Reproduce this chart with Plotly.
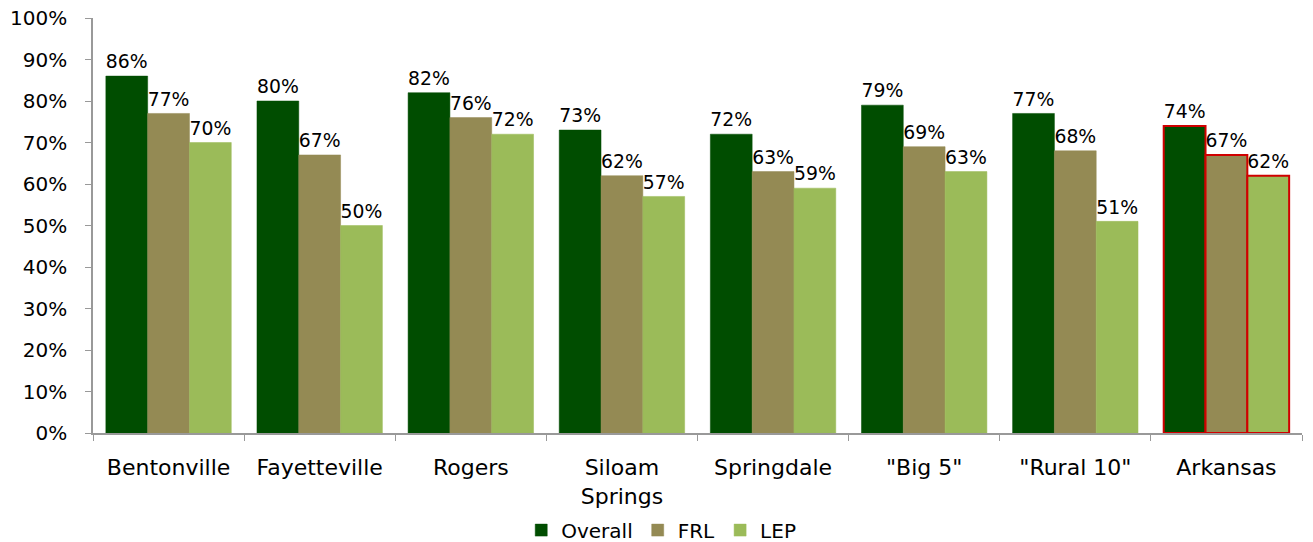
import plotly.graph_objects as go

categories = ["Bentonville", "Fayetteville", "Rogers", "Siloam<br>Springs",
              "Springdale", "\"Big 5\"", "\"Rural 10\"", "Arkansas"]
overall = [86, 80, 82, 73, 72, 79, 77, 74]
frl = [77, 67, 76, 62, 63, 69, 68, 67]
lep = [70, 50, 72, 57, 59, 63, 51, 62]

FONT = "DejaVu Sans"
series = [("Overall", overall, "#004d00"), ("FRL", frl, "#948a54"), ("LEP", lep, "#9bbb59")]

fig = go.Figure()
for name, vals, col in series:
    line_cols = [col] * (len(categories) - 1) + ["#d00000"]
    line_w = [0.5] * (len(categories) - 1) + [2]
    fig.add_trace(go.Bar(
        x=categories, y=vals, name=name,
        marker=dict(color=col, line=dict(color=line_cols, width=line_w)),
        text=[f"{v}%" for v in vals], textposition="outside",
        textfont=dict(family=FONT, size=20, color="#000000"),
        cliponaxis=False,
    ))

fig.update_layout(
    width=1313, height=542,
    margin=dict(l=85, r=19, t=10, b=117, autoexpand=False),
    paper_bgcolor="white", plot_bgcolor="white",
    barmode="group", bargap=0.17, bargroupgap=0,
    font=dict(family=FONT, size=20, color="#000000"),
    showlegend=True,
    legend=dict(orientation="h", x=0.47, xanchor="center", y=-0.234, yanchor="middle",
                font=dict(family=FONT, size=20), traceorder="normal"),
    yaxis=dict(range=[0, 100], dtick=10, ticksuffix="%", showgrid=False,
               showline=True, linecolor="#999999", linewidth=1.5,
               ticks="outside", ticklen=6, tickcolor="#999999", zeroline=False,
               automargin=False, ticklabelstandoff=14, ticklabeloverflow="allow",
               tickfont=dict(family=FONT, size=20)),
    xaxis=dict(showline=True, linecolor="#999999", linewidth=1.5,
               ticks="outside", ticklen=6, tickcolor="#999999", tickson="boundaries",
               automargin=False, ticklabelstandoff=14, ticklabeloverflow="allow",
               tickfont=dict(family=FONT, size=22)),
)

fig.write_html("out.html")
